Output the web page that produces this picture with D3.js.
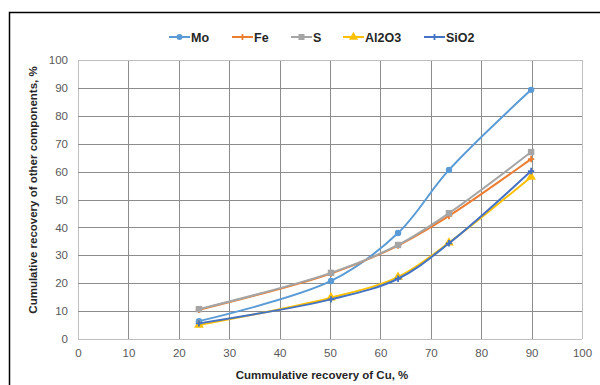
<!DOCTYPE html>
<html>
<head>
<meta charset="utf-8">
<script src="https://cdn.jsdelivr.net/npm/d3@7"></script>
<style>
  body { margin: 0; background: #fff; }
  svg { font-family: "Liberation Sans", Arial, sans-serif; }
</style>
</head>
<body>
<svg width="600" height="385"></svg>
<script>
const cuRecovery = [24, 50.2, 63.5, 73.6, 89.9]
const mo = [6.4, 20.8, 38.0, 60.6, 89.3]
const fe = [10.5, 23.5, 33.5, 44.1, 64.5]
const s = [10.7, 23.7, 33.7, 45.1, 67.0]
const al2o3 = [5.0, 14.8, 22.2, 34.5, 58.1]
const sio2 = [5.6, 14.2, 21.6, 34.3, 60.2]
const xTicks = [0, 10, 20, 30, 40, 50, 60, 70, 80, 90, 100]
const yTicks = [0, 10, 20, 30, 40, 50, 60, 70, 80, 90, 100]

const series = [
      { name: "Mo", values: mo, color: "#5B9BD5", marker: "circle" },
      { name: "Fe", values: fe, color: "#ED7D31", marker: "plus" },
      { name: "S", values: s, color: "#A5A5A5", marker: "square" },
      { name: "Al2O3", values: al2o3, color: "#FFC000", marker: "triangle" },
      { name: "SiO2", values: sio2, color: "#4472C4", marker: "plus" }]

const svg = d3.select("svg")

// outer frame
svg.append("rect")
      .attr("x", 9.5).attr("y", 12.5)
      .attr("width", 620).attr("height", 400)
      .attr("fill", "none").attr("stroke", "#000").attr("stroke-width", 1.5)

const x = d3.scaleLinear().domain([0, 100]).range([78, 582])
const y = d3.scaleLinear().domain([0, 100]).range([339, 60])

// grid
const grid = svg.append("g")
grid.selectAll(".vg").data(xTicks).join("line")
      .attr("x1", d => Math.round(x(d)) + 0.5).attr("x2", d => Math.round(x(d)) + 0.5)
      .attr("y1", y(0)).attr("y2", y(100))
      .attr("stroke", d => (d == 0 || d == 100) ? "#bfbfbf" : "#8c8c8c")
grid.selectAll(".hg").data(yTicks).join("line")
      .attr("y1", d => Math.round(y(d)) + 0.5).attr("y2", d => Math.round(y(d)) + 0.5)
      .attr("x1", x(0)).attr("x2", x(100))
      .attr("stroke", d => (d == 0 || d == 100) ? "#bfbfbf" : "#8c8c8c")

// axes
const xAxis = svg.append("g")
      .attr("transform", `translate(0,${y(0) + 4})`)
      .call(d3.axisBottom(x).tickValues(xTicks).tickSize(0).tickPadding(6))
const yAxis = svg.append("g")
      .attr("transform", `translate(${x(0) - 8},0)`)
      .call(d3.axisLeft(y).tickValues(yTicks).tickSize(0).tickPadding(2))
for (const a of [xAxis, yAxis]) {
      a.select(".domain").remove()
      a.selectAll("text").attr("fill", "#595959").style("font-size", "11.5px")
            .style("font-family", "Liberation Sans, Arial, sans-serif")
}

// axis titles
svg.append("text")
      .attr("x", 322).attr("y", 379)
      .attr("text-anchor", "middle")
      .attr("font-weight", "bold").attr("font-size", 11.5).attr("fill", "#262626")
      .text("Cummulative recovery of Cu, %")
svg.append("text")
      .attr("transform", "translate(37,190) rotate(-90)")
      .attr("text-anchor", "middle")
      .attr("font-weight", "bold").attr("font-size", 11.5).attr("fill", "#262626")
      .text("Cumulative recovery of other components, %")

// lines
const line = d3.line()
      .x((d, i) => x(cuRecovery[i]))
      .y(d => y(d))
      .curve(d3.curveCatmullRom.alpha(0.5))

function drawMarker(g, type, color, size) {
      if (type == "circle") {
            g.append("circle").attr("r", size).attr("fill", color)
      } else if (type == "square") {
            g.append("rect").attr("x", -size).attr("y", -size)
                  .attr("width", size * 2).attr("height", size * 2).attr("fill", color)
      } else if (type == "triangle") {
            g.append("path").attr("d", d3.symbol(d3.symbolTriangle, size * size * 4)).attr("fill", color)
      } else {
            g.append("path").attr("d", `M${-size},0H${size}M0,${-size}V${size}`)
                  .attr("stroke", color).attr("stroke-width", 1.8)
      }
}

const lines = svg.append("g")
series.forEach(sr => {
      lines.append("path")
            .attr("d", line(sr.values))
            .attr("fill", "none")
            .attr("stroke", sr.color)
            .attr("stroke-width", 2)
      sr.values.forEach((v, i) => {
            const g = lines.append("g").attr("transform", `translate(${x(cuRecovery[i])},${y(v)})`)
            drawMarker(g, sr.marker, sr.color, 3.2)
      })
})

// legend
const legendX = [169, 232, 291, 343, 424]
const legend = svg.append("g")
series.forEach((sr, i) => {
      const g = legend.append("g").attr("transform", `translate(${legendX[i]},37)`)
      g.append("line").attr("x1", 0).attr("x2", 21).attr("stroke", sr.color).attr("stroke-width", 2)
      const m = g.append("g").attr("transform", "translate(10.5,0)")
      drawMarker(m, sr.marker, sr.color, 3)
      g.append("text").attr("x", 22).attr("y", 4.5)
            .attr("font-weight", "bold").attr("font-size", 12.5).attr("fill", "#262626")
            .text(sr.name)
})
</script>
</body>
</html>
